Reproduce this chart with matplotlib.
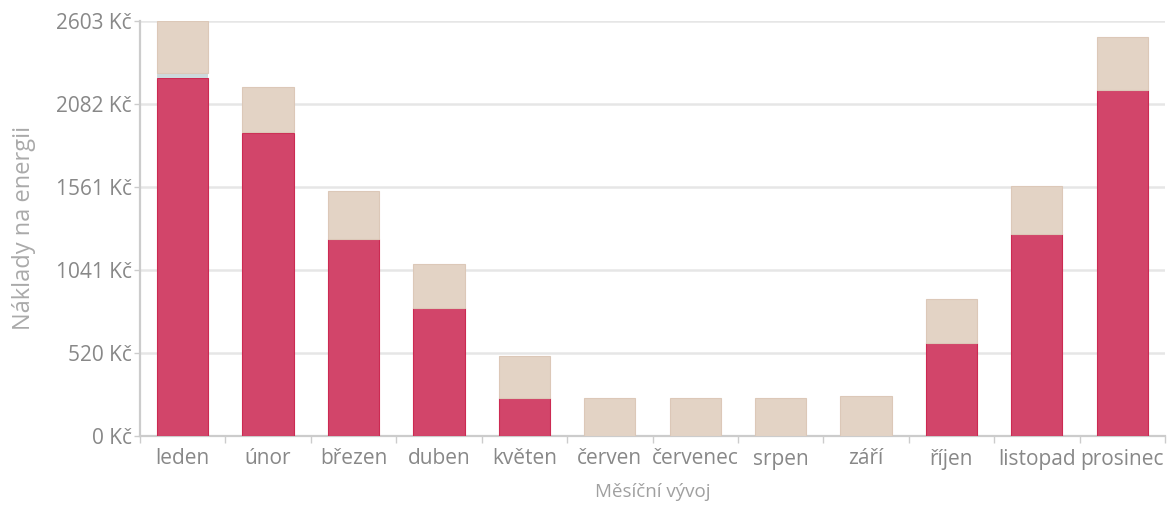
import matplotlib
matplotlib.use("Agg")
import matplotlib.pyplot as plt
import numpy as np
from matplotlib.ticker import FixedLocator

months = ["leden", "únor", "březen", "duben", "květen", "červen", "červenec",
          "srpen", "září", "říjen", "listopad", "prosinec"]
heating = [2242, 1897, 1232, 805, 238, 0, 0, 0, 0, 583, 1263, 2168]
other = [31, 8, 0, 0, 0, 0, 0, 0, 0, 0, 0, 0]
base = [330, 284, 303, 274, 264, 238, 238, 238, 249, 273, 303, 331]
yticks = [0, 520, 1041, 1561, 2082, 2603]
ytick_labels = ["0 Kč", "520 Kč", "1041 Kč", "1561 Kč", "2082 Kč", "2603 Kč"]

plt.rcParams['font.family'] = ['Open Sans', 'DejaVu Sans']

fig = plt.figure(figsize=(11.76, 5.07), dpi=100)
ax = fig.add_axes([140/1176, 1-436/507, (1165-140)/1176, (436-20.7)/507])

x = np.arange(len(months))
w = 0.6
h = np.array(heating)
o = np.array(other)
b = np.array(base)
ax.bar(x, h, width=w, color="#d2456a", edgecolor="#cc2a52", linewidth=0.8, zorder=3)
ax.bar(x, o, width=w, bottom=h, color="#cdd9dc", edgecolor="none", linewidth=0, zorder=3)
ax.bar(x, b, width=w, bottom=h + o, color="#e3d3c5", edgecolor="#dcc8b8", linewidth=0.8, zorder=3)

ax.set_xlim(-0.5, len(months) - 0.5)
ax.set_ylim(0, 2603)
ax.set_yticks(yticks)
ax.set_yticklabels(ytick_labels)
ax.set_xticks(x)
ax.set_xticklabels(months)
ax.xaxis.set_minor_locator(FixedLocator(np.arange(-0.5, len(months), 1.0)))

ax.grid(axis="y", color="#e6e6e6", linewidth=1.8, zorder=0)
ax.set_axisbelow(True)
for s in ["top", "right"]:
    ax.spines[s].set_visible(False)
for s in ["left", "bottom"]:
    ax.spines[s].set_color("#cccccc")
    ax.spines[s].set_linewidth(1.6)

ax.tick_params(axis="y", length=4, width=1, color="#cccccc", labelsize=15,
               labelcolor="#888888", pad=2)
ax.tick_params(axis="x", which="major", length=0, labelsize=15,
               labelcolor="#888888", pad=9)
ax.tick_params(axis="x", which="minor", length=5, width=1, color="#cccccc")

ax.set_xlabel("Měsíční vývoj", fontsize=13.5, color="#a0a0a0", labelpad=10)
ax.set_ylabel("Náklady na energii", fontsize=17, color="#aaaaaa", labelpad=14)

fig.savefig("out.png", dpi=100)
